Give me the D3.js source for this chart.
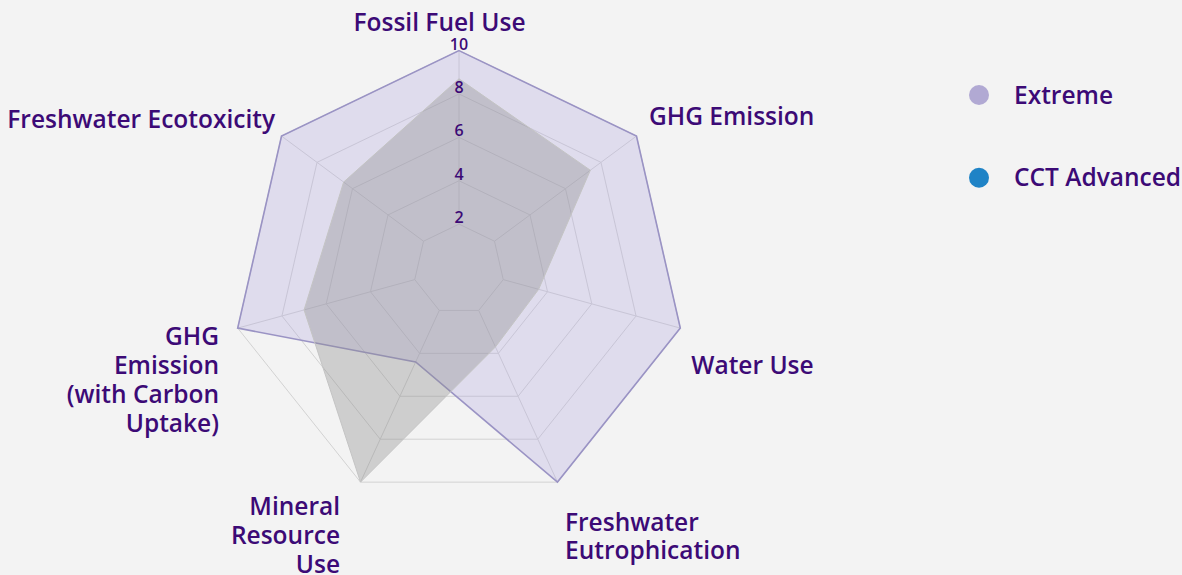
<!DOCTYPE html>
<html>
<head>
<meta charset="utf-8">
<script src="https://cdn.jsdelivr.net/npm/d3@7"></script>
<style>
  html, body { margin: 0; padding: 0; background: #f3f3f3; }
  svg { display: block; font-family: "Open Sans", "Noto Sans", sans-serif; }
  .lbl { fill: #3c0a76; font-weight: 600; }
</style>
</head>
<body>
<script>
// Axis categories (clockwise from top)
var categories = ["Fossil Fuel Use", "GHG Emission", "Water Use", "Freshwater Eutrophication",
                  "Mineral Resource Use", "GHG Emission (with Carbon Uptake)", "Freshwater Ecotoxicity"];
// How each category label is broken into lines
var categoryLines = [["Fossil Fuel Use"], ["GHG Emission"], ["Water Use"], ["Freshwater", "Eutrophication"],
                     ["Mineral", "Resource", "Use"], ["GHG", "Emission", "(with Carbon", "Uptake)"], ["Freshwater Ecotoxicity"]];
// Series values
var extreme     = [10, 10, 10, 10, 4.4, 10, 10];
var cctAdvanced = [8.7, 7.4, 3.6, 3.7, 10, 7.0, 6.5];
var seriesNames = ["Extreme", "CCT Advanced"];
// Radial tick labels
var tickValues = [2, 4, 6, 8, 10];

var width = 1182, height = 575;

// outer frame centre / radius, and the point the axes grow from
var cx = 459, cy = 277.6, R = 227;
var ox = 459, oy = 267.5;

var rScale = d3.scaleLinear().domain([0, 10]).range([0, 1]);
var angle = d3.scaleLinear().domain([0, categories.length]).range([0, 2 * Math.PI]);

function point(i, v) {
  var a = angle(i);
  var vx = cx + R * Math.sin(a), vy = cy - R * Math.cos(a);
  var t = rScale(v);
  return [ox + t * (vx - ox), oy + t * (vy - oy)];
}

var svg = d3.select("body").append("svg")
  .attr("width", width)
  .attr("height", height);

svg.append("rect").attr("width", width).attr("height", height).attr("fill", "#f3f3f3");

var line = d3.line().curve(d3.curveLinearClosed);

// grid rings
svg.append("g").selectAll("path")
  .data(tickValues)
  .enter().append("path")
    .attr("d", v => line(categories.map((c, i) => point(i, v))))
    .attr("fill", "none")
    .attr("stroke", "#d2d2d2")
    .attr("stroke-width", 1);

// spokes (start at the first ring)
svg.append("g").selectAll("line")
  .data(categories)
  .enter().append("line")
    .attr("x1", (d, i) => point(i, tickValues[0])[0])
    .attr("y1", (d, i) => point(i, tickValues[0])[1])
    .attr("x2", (d, i) => point(i, 10)[0])
    .attr("y2", (d, i) => point(i, 10)[1])
    .attr("stroke", "#d2d2d2")
    .attr("stroke-width", 1);

// Extreme
svg.append("path")
  .attr("d", line(extreme.map((v, i) => point(i, v))))
  .attr("fill", "#b3abe0")
  .attr("fill-opacity", 0.32)
  .attr("stroke", "#9a93c4")
  .attr("stroke-width", 1.6);

// CCT Advanced
svg.append("path")
  .attr("d", line(cctAdvanced.map((v, i) => point(i, v))))
  .attr("fill", "#8c8c8c")
  .attr("fill-opacity", 0.36)
  .attr("stroke", "#c4c4c4")
  .attr("stroke-width", 1);

// tick labels on the top spoke
svg.append("g").selectAll("text")
  .data(tickValues)
  .enter().append("text")
    .attr("class", "lbl")
    .attr("x", d => point(0, d)[0])
    .attr("y", d => point(0, d)[1] - 1)
    .attr("text-anchor", "middle")
    .attr("font-size", 16)
    .text(d => d);

// category labels: offset from the outer vertex
var labelPos = [
  {dx: -19.5, dy: -20, anchor: "middle"},
  {dx: 12.5, dy: -11, anchor: "start"},
  {dx: 11, dy: 46, anchor: "start"},
  {dx: 7.5, dy: 48.5, anchor: "start"},
  {dx: -20.5, dy: 33, anchor: "end"},
  {dx: -18.7, dy: 17, anchor: "end"},
  {dx: -6.5, dy: -8.5, anchor: "end"}
];
var lineH = 28.8;

var catText = svg.append("g").selectAll("text")
  .data(categoryLines)
  .enter().append("text")
    .attr("class", "lbl")
    .attr("font-size", 24.5)
    .attr("text-anchor", (d, i) => labelPos[i].anchor)
    .attr("transform", (d, i) => {
      var p = point(i, 10);
      return "translate(" + (p[0] + labelPos[i].dx) + "," + (p[1] + labelPos[i].dy) + ")";
    });

catText.selectAll("tspan")
  .data(d => d)
  .enter().append("tspan")
    .attr("x", 0)
    .attr("y", (d, j) => j * lineH)
    .text(d => d);

// legend
var legendY = d3.scalePoint().domain(seriesNames).range([95, 177.7]);
var legendColor = d3.scaleOrdinal().domain(seriesNames).range(["#b1a9d3", "#1f83c6"]);

var legend = svg.append("g").selectAll("g")
  .data(seriesNames)
  .enter().append("g")
    .attr("transform", d => "translate(979," + legendY(d) + ")");

legend.append("circle")
  .attr("r", 10)
  .attr("fill", d => legendColor(d));

legend.append("text")
  .attr("class", "lbl")
  .attr("x", 35)
  .attr("y", 8.5)
  .attr("font-size", 24.5)
  .text(d => d);
</script>
</body>
</html>
